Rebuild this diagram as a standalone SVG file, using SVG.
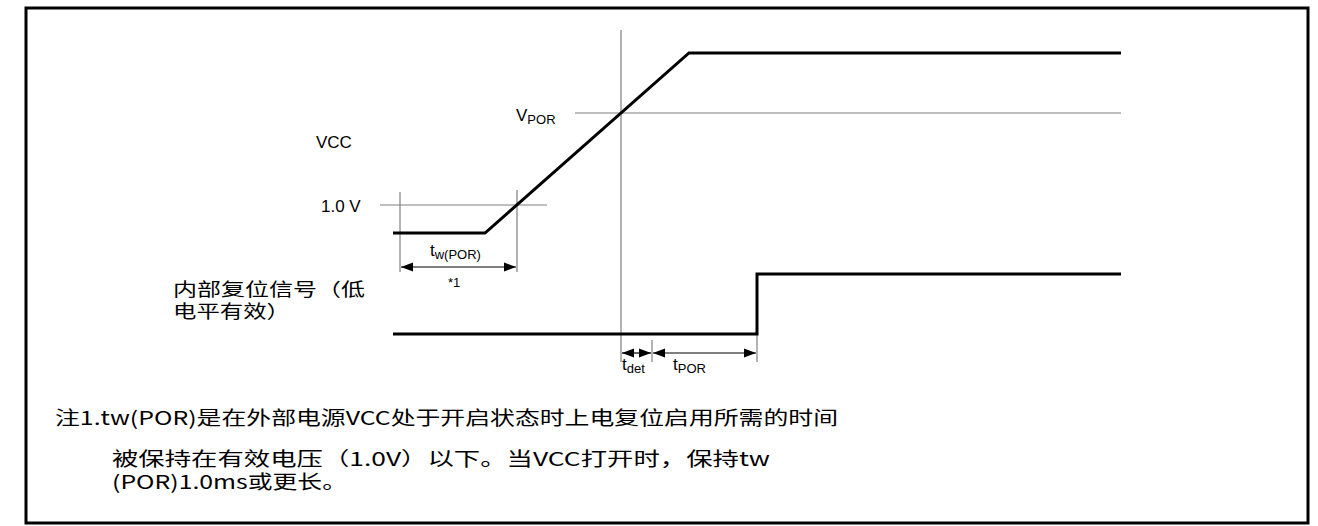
<svg xmlns="http://www.w3.org/2000/svg" width="1318" height="526" viewBox="0 0 1318 526">
<defs>
<marker id="ah" viewBox="0 0 12 10" refX="12" refY="5" markerWidth="12" markerHeight="10" markerUnits="userSpaceOnUse" orient="auto-start-reverse">
<path d="M0,0.5 L12,5 L0,9.5 Z" fill="#000"/>
</marker>
<style>
.frame{fill:#fff;stroke:#000;stroke-width:3}
.sig{fill:none;stroke:#000;stroke-width:3}
.ref{fill:none;stroke:#808080;stroke-width:1.2}
.dim{fill:none;stroke:#000;stroke-width:1.2}
.lbl{font-family:"Liberation Sans",Arial,sans-serif;font-size:17px;fill:#000}
.sub{font-size:13px}
.cjk{font-family:"Noto Sans CJK SC","Liberation Sans",sans-serif;font-size:18px;fill:#000}
.note{font-size:19px}
</style>
</defs>
<rect class="frame" x="26" y="8" width="1282" height="515"/>
<g id="connectors">
<line class="ref" x1="621" y1="30" x2="621" y2="362"/>
<line class="ref" x1="575" y1="113" x2="1121" y2="113"/>
<line class="ref" x1="380" y1="205" x2="547" y2="205"/>
<line class="ref" x1="400" y1="192" x2="400" y2="272"/>
<line class="ref" x1="517" y1="190" x2="517" y2="272"/>
<line class="ref" x1="652" y1="340" x2="652" y2="362"/>
<line class="ref" x1="757" y1="334" x2="757" y2="362"/>
<line class="dim" x1="401" y1="267" x2="516" y2="267" marker-start="url(#ah)" marker-end="url(#ah)"/>
<line class="dim" x1="622" y1="353" x2="651" y2="353" marker-start="url(#ah)" marker-end="url(#ah)"/>
<line class="dim" x1="653" y1="353" x2="756" y2="353" marker-start="url(#ah)" marker-end="url(#ah)"/>
</g>
<g id="vcc">
<polyline class="sig" points="393,233 485,233 689,53 1121,53"/>
<text class="lbl" x="316" y="148">VCC</text>
<text class="lbl" x="321" y="212">1.0 V</text>
<text class="lbl" x="516" y="121">V<tspan class="sub" dy="3">POR</tspan></text>
</g>
<g id="reset">
<polyline class="sig" points="393,334 757,334 757,274 1121,274"/>
<text class="cjk" x="173" y="296" textLength="192" lengthAdjust="spacingAndGlyphs">内部复位信号（低</text>
<text class="cjk" x="173" y="318" textLength="117" lengthAdjust="spacingAndGlyphs">电平有效）</text>
</g>
<g id="timing">
<text class="lbl" x="430" y="256">t<tspan class="sub" dy="3">w(POR)</tspan></text>
<text class="lbl" x="448" y="287" style="font-size:13px">*1</text>
<text class="lbl" x="622" y="370">t<tspan class="sub" dy="3">det</tspan></text>
<text class="lbl" x="673" y="370">t<tspan class="sub" dy="3">POR</tspan></text>
</g>
<g id="notes">
<text class="cjk note" x="55" y="425" textLength="783" lengthAdjust="spacingAndGlyphs">注1.tw(POR)是在外部电源VCC处于开启状态时上电复位启用所需的时间</text>
<text class="cjk note" x="112" y="466" textLength="658" lengthAdjust="spacingAndGlyphs">被保持在有效电压（1.0V）以下。当VCC打开时，保持tw</text>
<text class="cjk note" x="112" y="489" textLength="235" lengthAdjust="spacingAndGlyphs">(POR)1.0ms或更长。</text>
</g>
</svg>
